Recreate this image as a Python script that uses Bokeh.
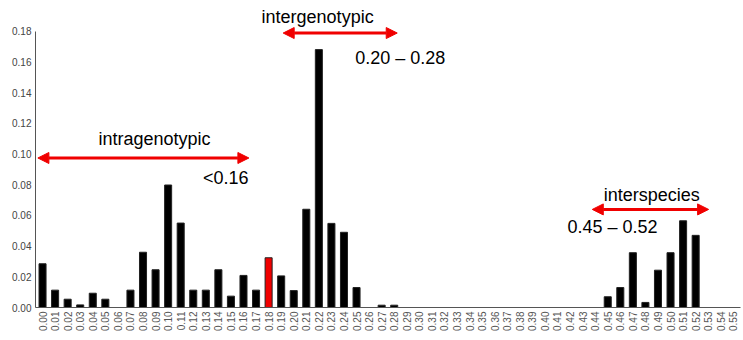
from bokeh.plotting import figure
from bokeh.models import (ColumnDataSource, FixedTicker, Label, Arrow, NormalHead, Range1d)
from bokeh.embed import file_html
from bokeh.resources import INLINE
import math

# ---- data ----
categories = ["%.2f" % (i / 100) for i in range(56)]
frequencies = [0.0285, 0.0113, 0.0054, 0.0017, 0.0093, 0.0054, 0.0, 0.0113, 0.036, 0.0246,
               0.0798, 0.055, 0.0113, 0.0113, 0.0246, 0.0074, 0.0209, 0.0113, 0.0324, 0.0206,
               0.011, 0.064, 0.168, 0.0548, 0.049, 0.013, 0.0, 0.0015, 0.0015, 0.0,
               0.0, 0.0, 0.0, 0.0, 0.0, 0.0, 0.0, 0.0, 0.0, 0.0,
               0.0, 0.0, 0.0, 0.0, 0.0, 0.007, 0.013, 0.0357, 0.0033, 0.0243,
               0.0357, 0.0565, 0.047, 0.0, 0.0, 0.0]
highlight = "0.18"
y_ticks = [0.00, 0.02, 0.04, 0.06, 0.08, 0.10, 0.12, 0.14, 0.16, 0.18]

red = "#f00000"
colors = [red if c == highlight else "black" for c in categories]
xs = list(range(len(categories)))
src = ColumnDataSource(dict(x=xs, top=frequencies, color=colors, cat=categories))

p = figure(width=743, height=340, output_backend="svg", toolbar_location=None,
           x_range=Range1d(-0.56, 55.57), y_range=Range1d(0, 0.2),
           min_border_left=35, min_border_right=3, min_border_top=0, min_border_bottom=33)
p.vbar(x="x", top="top", width=0.56, bottom=0, fill_color="color", line_color="#222222",
       line_width=1, source=src)

p.grid.visible = False
p.outline_line_color = None

p.xaxis.ticker = FixedTicker(ticks=xs)
p.xaxis.major_label_overrides = {i: c for i, c in zip(xs, categories)}
p.xaxis.major_label_orientation = math.pi / 2
p.xaxis.major_label_text_font = "Liberation Sans"
p.xaxis.major_label_text_font_size = "10px"
p.xaxis.major_label_text_color = "#555555"
p.xaxis.major_tick_out = 0
p.xaxis.major_tick_in = 0
p.xaxis.minor_tick_out = 0
p.xaxis.minor_tick_in = 0
p.xaxis.axis_line_color = "#555555"
p.xaxis.major_label_standoff = 4

p.yaxis.ticker = FixedTicker(ticks=y_ticks)
p.yaxis.major_label_overrides = {t: "%.2f" % t for t in y_ticks}
p.yaxis.bounds = (0, 0.18)
p.yaxis.major_label_text_font = "Liberation Sans"
p.yaxis.major_label_text_font_size = "10px"
p.yaxis.major_label_text_color = "#444444"
p.yaxis.major_tick_out = 0
p.yaxis.major_tick_in = 0
p.yaxis.minor_tick_out = 0
p.yaxis.minor_tick_in = 0
p.yaxis.axis_line_color = "#555555"
p.yaxis.major_label_standoff = 4


def arrow(x0, x1, y):
    p.add_layout(Arrow(x_start=x0, x_end=x1, y_start=y, y_end=y, line_color=red, line_width=3,
                       start=NormalHead(size=11, fill_color=red, line_color=red),
                       end=NormalHead(size=11, fill_color=red, line_color=red)))

def label(x, y, text, align):
    p.add_layout(Label(x=x, y=y, text=text, text_align=align, text_baseline="middle",
                       text_font="Liberation Sans", text_font_size="18px", text_color="black"))

arrow(19.16, 28.24, 0.1788)
arrow(-0.37, 16.43, 0.0974)
arrow(43.77, 53.03, 0.0639)

label(21.9, 0.189, "intergenotypic", "center")
label(24.9, 0.1624, "0.20 \u2013 0.28", "left")
label(8.92, 0.1096, "intragenotypic", "center")
label(16.4, 0.0841, "<0.16", "right")
label(48.5, 0.073, "interspecies", "center")
label(41.8, 0.0522, "0.45 \u2013 0.52", "left")

open("out.html", "w").write(file_html(p, INLINE))
